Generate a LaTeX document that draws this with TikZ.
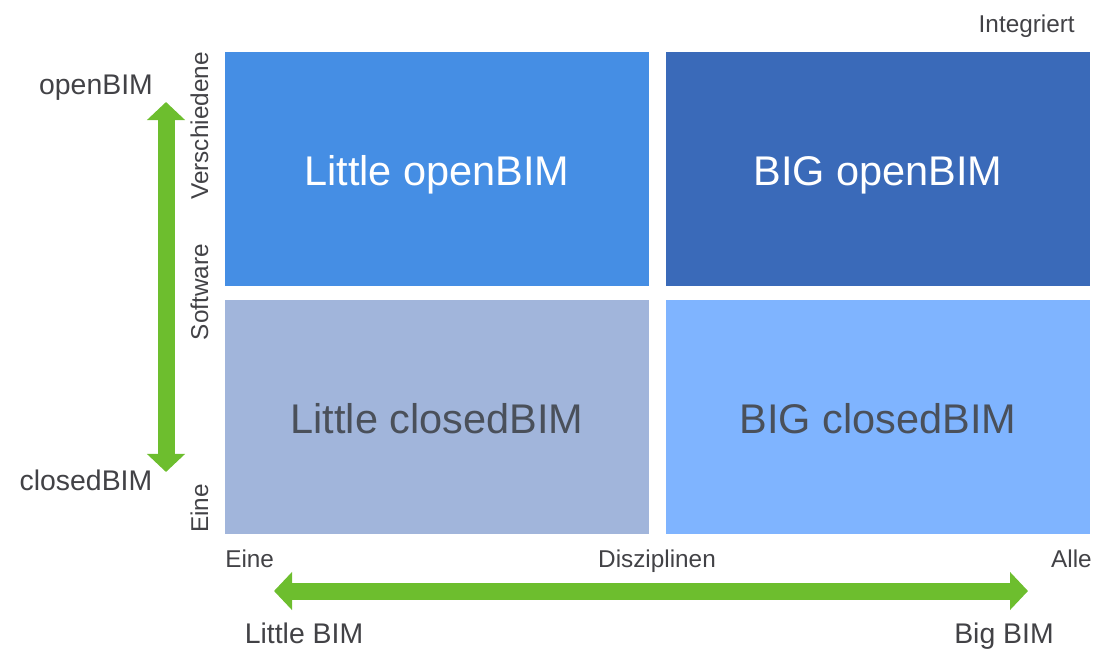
\documentclass[tikz,border=0pt]{standalone}
\usepackage{fontspec}
\setmainfont{Liberation Sans}
\usetikzlibrary{arrows.meta}
\definecolor{openblue}{RGB}{69,142,228}
\definecolor{bigopenblue}{RGB}{58,106,185}
\definecolor{closedgray}{RGB}{161,181,219}
\definecolor{closedlight}{RGB}{127,180,255}
\definecolor{bimgreen}{RGB}{109,190,46}
\definecolor{labelgray}{RGB}{66,66,70}
\definecolor{celltext}{RGB}{74,80,90}

\begin{document}
\begin{tikzpicture}[x=0.025cm,y=-0.025cm,
    cell/.style={minimum width=10.6cm,minimum height=5.85cm,inner sep=0pt,
      text height=0.8cm,text depth=0pt,font=\fontsize{29.5}{35}\selectfont},
    sidelbl/.style={inner sep=0pt,text=labelgray,font=\fontsize{20.2}{24}\selectfont},
    axislbl/.style={inner sep=0pt,text=labelgray,font=\fontsize{17.3}{21}\selectfont},
    greenarrow/.style={draw=bimgreen,line width=0.425cm,
      {Triangle[width=0.925cm,length=0.45cm]}-{Triangle[width=0.925cm,length=0.45cm]}}]
    \useasboundingbox (0,0) rectangle (1108,669);
    % four quadrants
    \node[cell,fill=openblue,text=white] (littleopen) at (437,169) {Little openBIM};
    \node[cell,fill=bigopenblue,text=white] (bigopen) at (878,169) {BIG openBIM};
    \node[cell,fill=closedgray,text=celltext] (littleclosed) at (437,417) {Little closedBIM};
    \node[cell,fill=closedlight,text=celltext] (bigclosed) at (878,417) {BIG closedBIM};
    % axis labels
    \node[axislbl,anchor=base east] (integriert) at (1075,33) {Integriert};
    \node[axislbl,anchor=base west] (xeine) at (225,567) {Eine};
    \node[axislbl,anchor=base] (disziplinen) at (657,567) {Disziplinen};
    \node[axislbl,anchor=base east] (alle) at (1092,567) {Alle};
    \node[axislbl,rotate=90,anchor=base east] (verschiedene) at (208,52) {Verschiedene};
    \node[axislbl,rotate=90,anchor=base] (software) at (208,292) {Software};
    \node[axislbl,rotate=90,anchor=base west] (yeine) at (208,533) {Eine};
    \node[sidelbl,anchor=base] (openlbl) at (96,95) {openBIM};
    \node[sidelbl,anchor=base] (closedlbl) at (86,490) {closedBIM};
    \node[sidelbl,anchor=base] (littlebim) at (304,643) {Little BIM};
    \node[sidelbl,anchor=base] (bigbim) at (1004,643) {Big BIM};
    % green double arrows
    \coordinate (vtop) at (166,102);
    \coordinate (vbot) at (166,472);
    \coordinate (hleft) at (274,591);
    \coordinate (hright) at (1028,591);
    \draw[greenarrow] (vbot) -- (vtop);
    \draw[greenarrow] (hleft) -- (hright);
\end{tikzpicture}
\end{document}
